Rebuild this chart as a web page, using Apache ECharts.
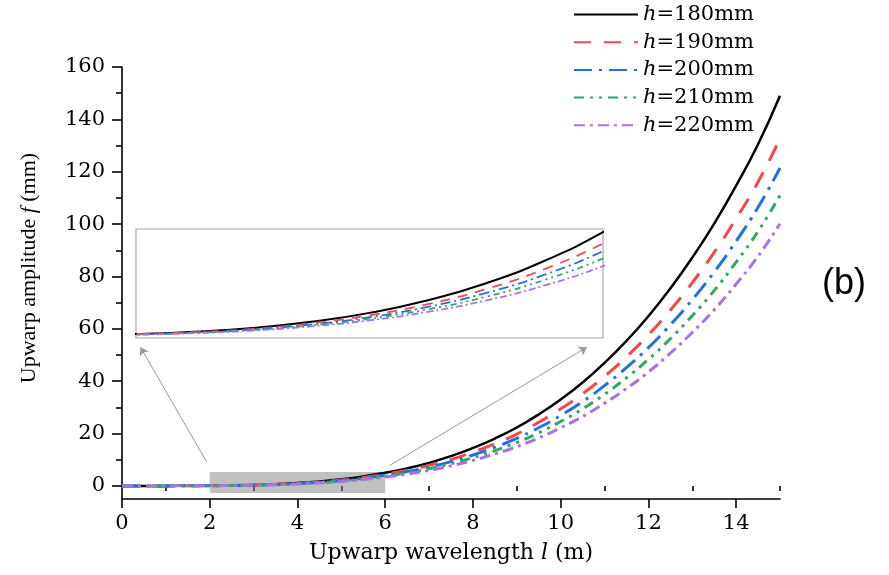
<!DOCTYPE html>
<html>
<head>
<meta charset="utf-8">
<script src="https://cdn.jsdelivr.net/npm/echarts@6/dist/echarts.min.js"></script>
<style>html,body{margin:0;padding:0;background:#fff;}#c{width:889px;height:575px;}</style>
</head>
<body>
<div id="c"></div>
<script>
// Upwarp wavelength l (m)
const wavelength = [0,0.5,1,1.5,2,2.5,3,3.5,4,4.5,5,5.5,6,6.5,7,7.5,8,8.5,9,9.5,10,10.5,11,11.5,12,12.5,13,13.5,14,14.5,15];
// Upwarp amplitude f (mm)
const h180 = [0,0,0.01,0.03,0.09,0.2,0.38,0.68,1.11,1.72,2.54,3.62,5.0,6.7,8.8,11.4,14.5,18.1,22.3,27.3,33.0,39.5,47.0,55.4,64.8,75.4,87.2,100.2,114.7,130.5,149];
const h190 = [0,0,0.01,0.03,0.08,0.18,0.34,0.61,0.99,1.53,2.26,3.22,4.45,5.96,7.83,10.1,12.9,16.1,19.8,24.3,29.4,35.2,41.8,49.3,57.7,67.1,77.6,89.2,102.1,116.1,132.6];
const h200 = [0,0,0.01,0.02,0.07,0.16,0.31,0.55,0.90,1.40,2.07,2.95,4.08,5.46,7.17,9.29,11.8,14.8,18.2,22.2,26.9,32.2,38.3,45.2,52.8,61.5,71.1,81.7,93.5,106.4,121.4];
const h210 = [0,0,0.01,0.02,0.07,0.15,0.28,0.51,0.83,1.28,1.89,2.70,3.73,4.99,6.56,8.49,10.8,13.5,16.6,20.3,24.6,29.4,35.0,41.3,48.3,56.2,65.0,74.6,85.5,97.2,111];
const h220 = [0,0,0.01,0.02,0.06,0.13,0.26,0.46,0.75,1.16,1.71,2.43,3.36,4.50,5.91,7.66,9.74,12.2,15.0,18.3,22.2,26.5,31.6,37.2,43.5,50.7,58.6,67.3,77.1,87.7,100.1];
const seriesNames = ['h=180mm','h=190mm','h=200mm','h=210mm','h=220mm'];
const xTickLabels = [0,2,4,6,8,10,12,14];
const xMinorTicks = [1,3,5,7,9,11,13,15];
const yTickLabels = [0,20,40,60,80,100,120,140,160];
const yMinorTicks = [10,30,50,70,90,110,130,150];

const allValues = [h180,h190,h200,h210,h220];
const colors = ['#000000','#f24a4a','#2270e2','#2fa862','#a874e2'];
const dashes = ['solid',[17,13],[18,7,3,7],[10,6,3,6,3,6],[11,5,3,5]];
const insetDashes = ['solid',[10,8],[10,4,2,4],[6,4,2,4,2,4],[7,3,2,3]];
const serif = 'DejaVu Serif';

function pairs(ys){ return wavelength.map((x,i)=>[x, ys[i]]); }

const series = [];
allValues.forEach((ys,i)=>{
  series.push({
    name: seriesNames[i], type:'line', xAxisIndex:0, yAxisIndex:0,
    data: pairs(ys), smooth:true, showSymbol:false, symbol:'none', z:2,
    lineStyle:{color:colors[i], width:i===0?2.5:3, type:dashes[i]},
    itemStyle:{color:colors[i]}
  });
});
allValues.forEach((ys,i)=>{
  series.push({
    name: seriesNames[i], type:'line', xAxisIndex:2, yAxisIndex:2,
    data: pairs(ys), smooth:true, showSymbol:false, symbol:'none', clip:true, z:4,
    lineStyle:{color:colors[i], width:i===0?2:1.8, type:insetDashes[i]},
    itemStyle:{color:colors[i]}
  });
});
series.push({
  type:'line', xAxisIndex:0, yAxisIndex:0, data:[], z:6, silent:true,
  markArea:{silent:true, itemStyle:{color:'rgba(130,130,130,0.5)'},
    data:[[{coord:[2,-2.7]},{coord:[6,5.3]}]]},
  markLine:{silent:true, symbol:['none','arrow'], symbolSize:[8,8], label:{show:false},
    lineStyle:{color:'#9a9a9a', width:1, type:'solid'},
    data:[[{coord:[1.93,9.2]},{coord:[0.42,53.0]}],[{coord:[6.1,7.8]},{coord:[10.6,53.0]}]]}
});

const chart = echarts.init(document.getElementById('c'));
chart.setOption({
  backgroundColor:'#ffffff',
  animation:false,
  legend:{
    orient:'vertical', left:573, top:4, padding:0, itemWidth:64, itemHeight:20, itemGap:6.7,
    data: seriesNames,
    itemStyle:{opacity:0, borderWidth:0},
    lineStyle:{inherit:true},
    formatter: n => '{i|h}' + n.slice(1),
    textStyle:{fontFamily:serif, fontSize:21, color:'#000', lineHeight:20,
      rich:{i:{fontFamily:serif, fontStyle:'italic', fontSize:21, color:'#000', lineHeight:20}}}
  },
  grid:[
    {left:122, top:67, width:658, height:432, outerBoundsMode:'none'},
    {left:122, top:67, width:658, height:432, outerBoundsMode:'none'},
    {left:136, top:229, width:467, height:109, show:true, borderColor:'#a8a8a8', borderWidth:1.2, backgroundColor:'#ffffff', outerBoundsMode:'none'}
  ],
  xAxis:[
    {type:'value', gridIndex:0, min:0, max:15,
      name:'Upwarp wavelength {i|l} (m)', nameLocation:'middle', nameGap:43,
      nameTextStyle:{fontFamily:serif, fontSize:22, color:'#000', rich:{i:{fontFamily:serif, fontStyle:'italic', fontSize:22, color:'#000'}}},
      axisLine:{show:true, onZero:false, lineStyle:{color:'#000', width:1.6}},
      axisTick:{show:true, inside:false, length:9, customValues:xTickLabels, lineStyle:{color:'#000', width:1.6}},
      axisLabel:{show:true, customValues:xTickLabels, margin:14, fontFamily:serif, fontSize:21, color:'#000'},
      splitLine:{show:false}},
    {type:'value', gridIndex:1, min:0, max:15,
      axisLine:{show:false}, axisLabel:{show:false}, splitLine:{show:false},
      axisTick:{show:true, inside:false, length:5, customValues:xMinorTicks, lineStyle:{color:'#000', width:1.6}}},
    {type:'value', gridIndex:2, min:2, max:6, show:false}
  ],
  yAxis:[
    {type:'value', gridIndex:0, min:-5, max:160,
      name:'Upwarp amplitude {i|f} (mm)', nameLocation:'middle', nameGap:82,
      nameTextStyle:{fontFamily:'Liberation Serif', fontSize:22, color:'#000', padding:[0,0,0,30], rich:{i:{fontFamily:'Liberation Serif', fontStyle:'italic', fontSize:22, color:'#000'}}},
      axisLine:{show:true, onZero:false, lineStyle:{color:'#000', width:1.6}},
      axisTick:{show:true, inside:false, length:10, customValues:yTickLabels, lineStyle:{color:'#000', width:1.6}},
      axisLabel:{show:true, customValues:yTickLabels, margin:17, fontFamily:serif, fontSize:21, color:'#000'},
      splitLine:{show:false}},
    {type:'value', gridIndex:1, min:-5, max:160,
      axisLine:{show:false}, axisLabel:{show:false}, splitLine:{show:false},
      axisTick:{show:true, inside:false, length:6, customValues:yMinorTicks, lineStyle:{color:'#000', width:1.6}}},
    {type:'value', gridIndex:2, min:-0.1, max:5.15, show:false}
  ],
  graphic:[{type:'text', left:822, top:266, style:{text:'(b)', fontFamily:'Liberation Sans', fontSize:36, fill:'#000'}}],
  series: series
});
</script>
</body>
</html>
